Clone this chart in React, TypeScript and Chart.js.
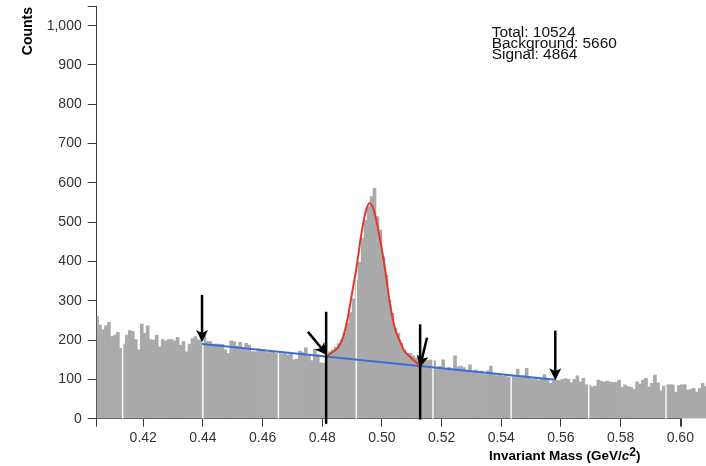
import { useEffect, useRef } from 'react';
import { Chart, registerables } from 'chart.js';

Chart.register(...registerables);

// ---------- data ----------
const BIN_START = 0.404;
const BIN_WIDTH = 0.001;

const counts = [
  260, 238, 226, 236, 245, 209, 213, 220, 179, 190,
  213, 224, 222, 201, 175, 241, 217, 236, 201, 200,
  213, 183, 201, 198, 201, 201, 198, 207, 187, 196,
  170, 190, 204, 209, 200, 201, 213, 196, 196, 190,
  190, 190,
  189, 176, 166, 198, 196, 185, 194, 180, 192, 187,
  171, 170, 178, 176, 172, 168, 174, 170, 166, 171,
  165, 168, 162, 166, 150, 152, 172, 168, 180, 160,
  148, 178, 164, 142, 141, 158, 170, 175, 182, 191,
  200, 218, 243, 270, 305, 352, 398, 459, 505, 540,
  565, 586, 514, 480, 412, 365, 302, 268, 230, 217,
  192, 175, 166, 166, 160, 155, 148, 145,
  150, 148, 150, 147, 132, 133, 150, 128, 131, 126,
  160, 132, 134, 130, 122, 137, 118, 124, 115, 121,
  112, 122, 134, 112, 110, 114, 108, 112, 106, 108,
  110, 126, 108, 110, 128, 104, 101, 102, 98, 103,
  112, 99, 90, 95, 98, 97, 100, 102, 100,
  92, 100, 109, 94, 103, 86, 84, 81, 83, 98,
  96, 93, 96, 93, 92, 93, 98, 80, 86, 82,
  80, 75, 94, 88, 98, 103, 81, 90, 111, 91,
  71, 83, 86, 86, 86, 68, 84, 86, 87, 73,
  75, 77, 68, 77, 90, 82, 85,
];

const X_MIN = 0.4044;
const X_MAX = 0.6004;
const Y_MAX = 1050;
const xTickValues = [0.42, 0.44, 0.46, 0.48, 0.5, 0.52, 0.54, 0.56, 0.58, 0.6];
const yTickValues = [0, 100, 200, 300, 400, 500, 600, 700, 800, 900, 1000];

const backgroundFitX = [0.4397, 0.5581];
const backgroundFitY = [190, 99];

const signalFitX = [
  0.4813, 0.4825, 0.484, 0.4855, 0.487, 0.4885, 0.49, 0.4915, 0.493, 0.4945,
  0.4958, 0.4972, 0.4992, 0.5011, 0.5026, 0.5045, 0.506, 0.5073, 0.5095, 0.5112, 0.5128,
];
const signalFitY = [
  158, 164, 172, 183, 208, 255, 320, 386, 465, 525,
  548, 533, 463, 378, 296, 226, 198, 175, 157, 145, 134,
];

// signal window lines: x, lower count, upper count
const windowLineX = [0.4813, 0.5128];
const windowLineLow = [-13, -2];
const windowLineHigh = [272, 240];

// arrows: tail (x0,y0) -> tip (x1,y1) in data units
const arrowX0 = [0.4397, 0.4752, 0.5151, 0.5581];
const arrowY0 = [315, 221, 206, 224];
const arrowX1 = [0.4397, 0.4816, 0.5127, 0.5581];
const arrowY1 = [195, 162, 130, 98];

// thin white rendering seams between bars
const seamX = [0.4131, 0.44, 0.4653, 0.4914, 0.5171, 0.5433, 0.5693, 0.5952];

const statLines = ['Total: 10524', 'Background: 5660', 'Signal: 4864'];
const yTitle = 'Counts';
const xTitleMain = 'Invariant Mass (GeV/';
const xTitleItalic = 'c';
const xTitleSup = '2';
const xTitleClose = ')';

// ---------- styles ----------
const FONT = '"Liberation Sans", Arial, Helvetica, sans-serif';
const AXIS = '#3a3a3a';
const TICK_COLOR = '#333333';
const BAR = '#aaaaaa';
const BLUE = '#3a70d6';
const RED = '#e2382c';

function drawArrow(ctx: CanvasRenderingContext2D, x0: number, y0: number, x1: number, y1: number) {
  const ang = Math.atan2(y1 - y0, x1 - x0);
  const head = 12;
  const half = 6;
  const c = Math.cos(ang);
  const s = Math.sin(ang);
  const bx = x1 - head * c;
  const by = y1 - head * s;
  ctx.beginPath();
  ctx.moveTo(x0, y0);
  ctx.lineTo(bx + 3 * c, by + 3 * s);
  ctx.stroke();
  ctx.beginPath();
  ctx.moveTo(x1, y1);
  ctx.lineTo(bx + half * s, by - half * c);
  ctx.lineTo(bx + 3 * c, by + 3 * s);
  ctx.lineTo(bx - half * s, by + half * c);
  ctx.closePath();
  ctx.fill();
}

const overlayPlugin = {
  id: 'overlayPlugin',
  afterDatasetDraw(chart: any, args: any) {
    if (args.index !== 0) return;
    const { ctx, chartArea, scales } = chart;
    const x = scales.x;
    const y = scales.y;
    ctx.save();
    ctx.strokeStyle = '#ffffff';
    ctx.lineWidth = 1.4;
    for (const v of seamX) {
      const px = x.getPixelForValue(v);
      ctx.beginPath();
      ctx.moveTo(px, y.getPixelForValue(0));
      ctx.lineTo(px, chartArea.top);
      ctx.stroke();
    }
    ctx.restore();
  },
  afterDatasetsDraw(chart: any) {
    const { ctx, scales } = chart;
    const x = scales.x;
    const y = scales.y;
    ctx.save();
    ctx.strokeStyle = '#000';
    ctx.fillStyle = '#000';
    ctx.lineWidth = 2.5;
    ctx.lineCap = 'butt';
    windowLineX.forEach((v, i) => {
      const px = x.getPixelForValue(v);
      ctx.beginPath();
      ctx.moveTo(px, y.getPixelForValue(windowLineLow[i]));
      ctx.lineTo(px, y.getPixelForValue(windowLineHigh[i]));
      ctx.stroke();
    });
    arrowX0.forEach((v, i) => {
      drawArrow(
        ctx,
        x.getPixelForValue(v),
        y.getPixelForValue(arrowY0[i]),
        x.getPixelForValue(arrowX1[i]),
        y.getPixelForValue(arrowY1[i]),
      );
    });
    ctx.restore();
  },
  afterDraw(chart: any) {
    const { ctx, chartArea } = chart;
    ctx.save();
    // stats text (slightly wide face)
    ctx.fillStyle = '#111';
    ctx.font = `14px ${FONT}`;
    ctx.textAlign = 'left';
    ctx.textBaseline = 'alphabetic';
    const sw = 84 / ctx.measureText(statLines[0]).width;
    statLines.forEach((t, i) => {
      ctx.save();
      ctx.translate(chartArea.left + 395, 36.8 + i * 11.1);
      ctx.scale(sw, 1);
      ctx.fillText(t, 0, 0);
      ctx.restore();
    });
    // y title
    ctx.save();
    ctx.fillStyle = '#000';
    ctx.font = `bold 14px ${FONT}`;
    ctx.translate(31.5, chartArea.top + 1);
    ctx.rotate(-Math.PI / 2);
    ctx.textAlign = 'right';
    ctx.fillText(yTitle, 0, 0);
    ctx.restore();
    // x title
    const parts = [
      { t: xTitleMain, f: `bold 13.5px ${FONT}`, dy: 0 },
      { t: xTitleItalic, f: `italic bold 13.5px ${FONT}`, dy: 0 },
      { t: xTitleSup, f: `bold 12px ${FONT}`, dy: -4 },
      { t: xTitleClose, f: `bold 13.5px ${FONT}`, dy: 0 },
    ];
    let total = 0;
    const widths = parts.map((p) => {
      ctx.font = p.f;
      const w = ctx.measureText(p.t).width;
      total += w;
      return w;
    });
    const targetW = 154;
    const sx = Math.min(1, targetW / total);
    ctx.save();
    ctx.fillStyle = '#000';
    ctx.textAlign = 'left';
    ctx.translate(chartArea.right - 41 - total * sx, chartArea.bottom + 41);
    ctx.scale(sx, 1);
    let cx = 0;
    parts.forEach((p, i) => {
      ctx.font = p.f;
      ctx.fillText(p.t, cx, p.dy);
      cx += widths[i];
    });
    ctx.restore();
    ctx.restore();
  },
};

export default function App() {
  const ref = useRef<HTMLCanvasElement | null>(null);

  useEffect(() => {
    const canvas = ref.current;
    if (!canvas) return;
    const chart = new Chart(canvas, {
      type: 'bar',
      data: {
        datasets: [
          {
            type: 'bar',
            data: counts.map((c, i) => ({ x: BIN_START + BIN_WIDTH * (i + 0.5), y: c })),
            backgroundColor: BAR,
            borderWidth: 0,
            barPercentage: 1,
            categoryPercentage: 1,
            barThickness: 'flex',
            order: 3,
            clip: { left: 0, top: false, right: false, bottom: 0 },
          } as any,
          {
            type: 'line',
            data: backgroundFitX.map((v, i) => ({ x: v, y: backgroundFitY[i] })),
            borderColor: BLUE,
            borderWidth: 2,
            pointRadius: 0,
            fill: false,
            order: 2,
          } as any,
          {
            type: 'line',
            data: signalFitX.map((v, i) => ({ x: v, y: signalFitY[i] })),
            borderColor: RED,
            borderWidth: 2,
            pointRadius: 0,
            fill: false,
            cubicInterpolationMode: 'monotone',
            order: 1,
          } as any,
        ],
      },
      options: {
        responsive: false,
        animation: false,
        events: [],
        devicePixelRatio: 1,
        layout: { padding: { left: 0, right: 24.5, top: 6, bottom: 0 } },
        plugins: { legend: { display: false }, tooltip: { enabled: false } },
        scales: {
          x: {
            type: 'linear',
            min: X_MIN,
            max: X_MAX,
            offset: false,
            afterBuildTicks: (scale: any) => {
              scale.ticks = [X_MIN, ...xTickValues, X_MAX].map((value) => ({ value }));
            },
            afterFit: (scale: any) => {
              scale.height = 47.3;
              scale.paddingLeft = 0;
              scale.paddingRight = 0;
            },
            ticks: {
              autoSkip: false,
              maxRotation: 0,
              minRotation: 0,
              padding: 3,
              color: TICK_COLOR,
              font: { family: FONT, size: 14 },
              callback: (v: any) => (xTickValues.includes(v) ? Number(v).toFixed(2) : ''),
            },
            grid: {
              display: true,
              drawOnChartArea: false,
              drawTicks: true,
              tickLength: 8,
              color: AXIS,
              offset: false,
            },
            border: { display: true, color: AXIS, width: 1 },
          },
          y: {
            type: 'linear',
            min: 0,
            max: Y_MAX,
            afterBuildTicks: (scale: any) => {
              scale.ticks = [...yTickValues, Y_MAX].map((value) => ({ value }));
            },
            afterFit: (scale: any) => {
              scale.width = 96.7;
              scale.paddingTop = 0;
              scale.paddingBottom = 0;
            },
            ticks: {
              padding: 6,
              color: TICK_COLOR,
              font: { family: FONT, size: 14 },
              callback: (v: any) => (yTickValues.includes(v) ? Number(v).toLocaleString('en-US') : ''),
            },
            grid: {
              display: true,
              drawOnChartArea: false,
              drawTicks: true,
              tickLength: 9,
              color: AXIS,
            },
            border: { display: true, color: AXIS, width: 1 },
          },
        },
      } as any,
      plugins: [overlayPlugin as any],
    });
    return () => chart.destroy();
  }, []);

  return (
    <div style={{ position: 'absolute', left: 0, top: 0, width: 706, height: 466, background: '#fff' }}>
      <canvas ref={ref} width={706} height={466} style={{ display: 'block' }} />
    </div>
  );
}
